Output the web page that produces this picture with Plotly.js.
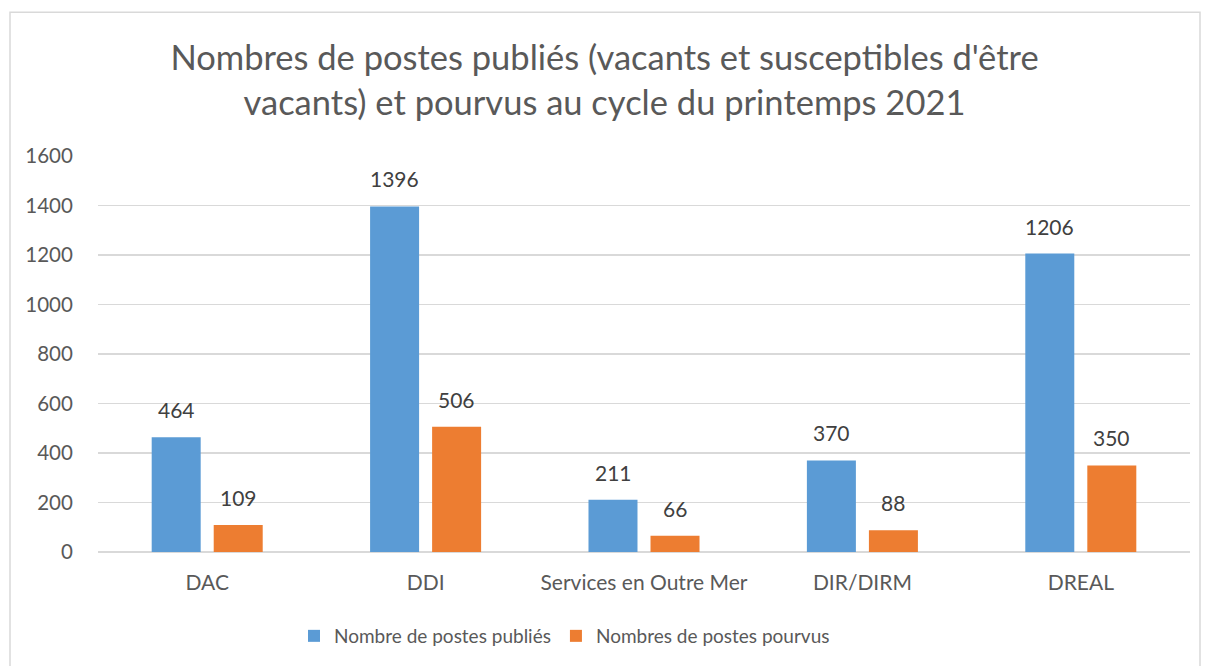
<!DOCTYPE html>
<html><head><meta charset="utf-8">
<script src="https://cdn.plot.ly/plotly-3.0.1.min.js"></script>
<style>html,body{margin:0;padding:0;background:#fff}#c{width:1209px;height:666px}</style>
</head><body><div id="c"></div>
<script>
const categories = ["DAC", "DDI", "Services en Outre Mer", "DIR/DIRM", "DREAL"];
const publies = [464, 1396, 211, 370, 1206];
const pourvus = [109, 506, 66, 88, 350];
const seriesNames = ["Nombre de postes publiés", "Nombres de postes pourvus"];
const yTicks = [0, 200, 400, 600, 800, 1000, 1200, 1400, 1600];

const FONT = "Lato, 'Open Sans', sans-serif";
const txt = "#595959";
const traces = [
  {type:"bar", x:categories, y:publies, name:seriesNames[0], marker:{color:"#5B9BD5"}, hoverinfo:"skip"},
  {type:"bar", x:categories, y:pourvus, name:seriesNames[1], marker:{color:"#ED7D31"}, hoverinfo:"skip"}
];
const annotations = [];
categories.forEach((c,i)=>{
  annotations.push({x:c, y:publies[i], xref:"x", yref:"y", text:String(publies[i]), showarrow:false, xshift:-31, yshift:13, yanchor:"bottom", font:{family:FONT,size:21,color:"#404040"}});
  annotations.push({x:c, y:pourvus[i], xref:"x", yref:"y", text:String(pourvus[i]), showarrow:false, xshift:31, yshift:13, yanchor:"bottom", font:{family:FONT,size:21,color:"#404040"}});
});
const W=1092, H=397, L=98, T=156;
const layout = {
  width:1209, height:666,
  margin:{l:98, r:19, t:156, b:113},
  paper_bgcolor:"#fff", plot_bgcolor:"#fff",
  font:{family:FONT, color:txt, size:20},
  title:{text:"Nombres de postes publiés (vacants et susceptibles d'être<br>vacants) et pourvus au cycle du printemps 2021", font:{family:FONT,size:34.5,color:txt}, x:0.5, xanchor:"center", y:1-70/666, yanchor:"top", yref:"container"},
  barmode:"group", bargap:0.432, bargroupgap:0.21,
  xaxis:{type:"category", showgrid:false, showline:false, zeroline:false, ticks:"outside", ticklen:12, tickcolor:"rgba(0,0,0,0)", tickfont:{family:FONT,size:21,color:txt}},
  yaxis:{range:[0,1600], tickvals:yTicks, ticktext:yTicks.map(String), showgrid:true, gridcolor:"#D9D9D9", gridwidth:1.5, zeroline:true, zerolinecolor:"#D9D9D9", zerolinewidth:1.5, showline:false, ticks:"outside", ticklen:20, tickcolor:"rgba(0,0,0,0)", tickfont:{family:FONT,size:20.5,color:txt}},
  showlegend:true,
  legend:{orientation:"h", x:(294-L)/W, xanchor:"left", y:-(636-553)/H, yanchor:"middle", font:{family:FONT,size:19,color:txt}, itemwidth:30, traceorder:"normal"},
  annotations:annotations,
  shapes:[{type:"rect", xref:"paper", yref:"paper", x0:(10-L)/W, x1:(1200-L)/W, y0:-(680-553)/H, y1:1+(T-12)/H, line:{color:"#D9D9D9", width:1.5}, fillcolor:"rgba(0,0,0,0)", layer:"below"}]
};
Plotly.newPlot("c", traces, layout, {staticPlot:true, displayModeBar:false});
</script></body></html>
